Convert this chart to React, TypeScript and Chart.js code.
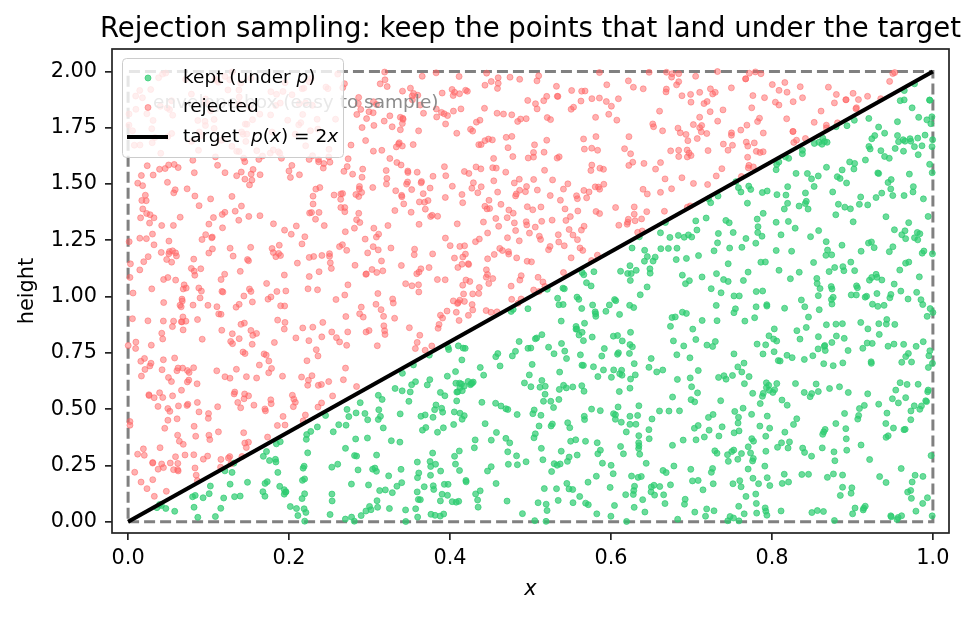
import { useEffect, useRef } from "react";
import { Chart, registerables } from "chart.js";

Chart.register(...registerables);

const TITLE = "Rejection sampling: keep the points that land under the target";
const X_LABEL = "x";
const Y_LABEL = "height";
const ENVELOPE_LABEL = "envelope box (easy to sample)";

const X_TICKS = [0, 0.2, 0.4, 0.6, 0.8, 1.0];
const X_TICK_LABELS = ["0.0", "0.2", "0.4", "0.6", "0.8", "1.0"];
const Y_TICKS = [0, 0.25, 0.5, 0.75, 1.0, 1.25, 1.5, 1.75, 2.0];
const Y_TICK_LABELS = ["0.00", "0.25", "0.50", "0.75", "1.00", "1.25", "1.50", "1.75", "2.00"];

// target density p(x) = 2x on [0, 1]
const TARGET_X = [0, 1];
const TARGET_Y = [0, 2];
// envelope (proposal) box
const BOX_X = [0, 1, 1, 0, 0];
const BOX_Y = [0, 0, 2, 2, 0];

// proposal draws: uniform over the envelope box (fixed seed, as in the figure's sampler)
const SAMPLE_COUNT = 2000;
const SEED = 20240607;

function mulberry32(a: number) {
  return function () {
    a |= 0;
    a = (a + 0x6d2b79f5) | 0;
    let t = Math.imul(a ^ (a >>> 15), 1 | a);
    t = (t + Math.imul(t ^ (t >>> 7), 61 | t)) ^ t;
    return ((t ^ (t >>> 14)) >>> 0) / 4294967296;
  };
}

const GREEN = "rgba(46,204,113,0.7)";
const RED = "rgba(255,99,99,0.5)";
const FONT = "'DejaVu Sans', sans-serif";

function drawRuns(ctx: CanvasRenderingContext2D, x: number, y: number, runs: [string, boolean][], size: number) {
  let cx = x;
  for (const [t, it] of runs) {
    ctx.font = `${it ? "italic " : ""}${size}px ${FONT}`;
    ctx.fillText(t, cx, y);
    cx += ctx.measureText(t).width;
  }
}

export default function App() {
  const ref = useRef<HTMLCanvasElement | null>(null);

  useEffect(() => {
    const rand = mulberry32(SEED);
    const kept: { x: number; y: number }[] = [];
    const rejected: { x: number; y: number }[] = [];
    for (let i = 0; i < SAMPLE_COUNT; i++) {
      const x = rand();
      const y = 2 * rand();
      if (y <= 2 * x) kept.push({ x, y });
      else rejected.push({ x, y });
    }

    const overlay = {
      id: "overlay",
      afterDraw(chart: any) {
        const ctx = chart.ctx as CanvasRenderingContext2D;
        const a = chart.chartArea;
        ctx.save();
        // envelope annotation text
        ctx.fillStyle = "rgba(128,128,128,0.9)";
        ctx.font = `18.5px ${FONT}`;
        ctx.textBaseline = "middle";
        ctx.textAlign = "left";
        ctx.fillText(ENVELOPE_LABEL, 153, 103);

        // legend
        ctx.beginPath();
        (ctx as any).roundRect(122.5, 58.5, 221, 99, 4);
        ctx.fillStyle = "rgba(255,255,255,0.8)";
        ctx.fill();
        ctx.strokeStyle = "#cccccc";
        ctx.lineWidth = 1;
        ctx.stroke();
        const rows = [78, 107.5, 137];
        ctx.lineWidth = 1;
        ctx.beginPath();
        ctx.arc(148, rows[0], 3, 0, Math.PI * 2);
        ctx.fillStyle = GREEN;
        ctx.strokeStyle = GREEN;
        ctx.fill();
        ctx.stroke();
        ctx.beginPath();
        ctx.arc(148, rows[1], 3, 0, Math.PI * 2);
        ctx.fillStyle = RED;
        ctx.strokeStyle = RED;
        ctx.fill();
        ctx.stroke();
        ctx.beginPath();
        ctx.moveTo(127, rows[2]);
        ctx.lineTo(168, rows[2]);
        ctx.strokeStyle = "#000";
        ctx.lineWidth = 4.2;
        ctx.stroke();
        ctx.fillStyle = "#000";
        ctx.textBaseline = "middle";
        drawRuns(ctx, 183, rows[0], [["kept (under ", false], ["p", true], [")", false]], 18.5);
        drawRuns(ctx, 183, rows[1], [["rejected", false]], 18.5);
        drawRuns(ctx, 183, rows[2], [["target  ", false], ["p", true], ["(", false], ["x", true], [") = 2", false], ["x", true]], 18.5);

        // spines
        ctx.strokeStyle = "#222";
        ctx.lineWidth = 1.7;
        ctx.strokeRect(a.left, a.top, a.right - a.left, a.bottom - a.top);

        // title
        ctx.fillStyle = "#000";
        ctx.font = `27.5px ${FONT}`;
        ctx.textAlign = "center";
        ctx.textBaseline = "alphabetic";
        ctx.fillText(TITLE, (a.left + a.right) / 2, 37);

        // axis titles
        ctx.font = `italic 20.8px ${FONT}`;
        ctx.textBaseline = "middle";
        ctx.fillText(X_LABEL, (a.left + a.right) / 2, 590);
        ctx.save();
        ctx.translate(28, (a.top + a.bottom) / 2);
        ctx.rotate(-Math.PI / 2);
        ctx.font = `20.8px ${FONT}`;
        ctx.fillText(Y_LABEL, 0, 0);
        ctx.restore();
        ctx.restore();
      },
    };

    const chart = new Chart(ref.current!, {
      type: "scatter",
      data: {
        datasets: [
          {
            label: "target",
            data: TARGET_X.map((x, i) => ({ x, y: TARGET_Y[i] })),
            showLine: true,
            borderColor: "#000",
            borderWidth: 4.2,
            pointRadius: 0,
            order: 0,
          },
          {
            label: "rejected",
            data: rejected,
            backgroundColor: RED,
            borderColor: RED,
            borderWidth: 1,
            pointRadius: 3,
            order: 1,
          },
          {
            label: "kept",
            data: kept,
            backgroundColor: GREEN,
            borderColor: GREEN,
            borderWidth: 1,
            pointRadius: 3,
            order: 2,
          },
          {
            label: "box",
            data: BOX_X.map((x, i) => ({ x, y: BOX_Y[i] })),
            showLine: true,
            borderColor: "rgba(128,128,128,1)",
            borderWidth: 3,
            borderDash: [11, 5],
            pointRadius: 0,
            order: 3,
          },
        ],
      },
      options: {
        animation: false,
        responsive: false,
        events: [],
        layout: { padding: { top: 49, right: 28, left: 0, bottom: 0 } },
        plugins: { legend: { display: false }, tooltip: { enabled: false }, title: { display: false } },
        scales: {
          x: {
            type: "linear",
            min: -0.02,
            max: 1.02,
            border: { display: false },
            grid: { drawOnChartArea: false, drawTicks: true, tickLength: 7, color: "#222", lineWidth: 1.7 },
            afterBuildTicks: (s: any) => {
              s.ticks = X_TICKS.map((v) => ({ value: v }));
            },
            afterFit: (s: any) => {
              s.height = 85;
            },
            ticks: {
              color: "#000",
              font: { family: FONT, size: 20.8 },
              padding: 6,
              maxRotation: 0,
              callback: (_v: any, i: number) => X_TICK_LABELS[i],
            },
          },
          y: {
            type: "linear",
            min: -0.05,
            max: 2.1,
            border: { display: false },
            grid: { drawOnChartArea: false, drawTicks: true, tickLength: 7, color: "#222", lineWidth: 1.7 },
            afterBuildTicks: (s: any) => {
              s.ticks = Y_TICKS.map((v) => ({ value: v }));
            },
            afterFit: (s: any) => {
              s.width = 112;
            },
            ticks: {
              color: "#000",
              font: { family: FONT, size: 20.8 },
              padding: 8,
              callback: (_v: any, i: number) => Y_TICK_LABELS[i],
            },
          },
        },
      },
      plugins: [overlay],
    });
    return () => chart.destroy();
  }, []);

  return (
    <div style={{ position: "fixed", left: 0, top: 0, width: 977, height: 618, background: "#fff" }}>
      <canvas ref={ref} width={977} height={618} style={{ width: 977, height: 618 }} />
    </div>
  );
}
